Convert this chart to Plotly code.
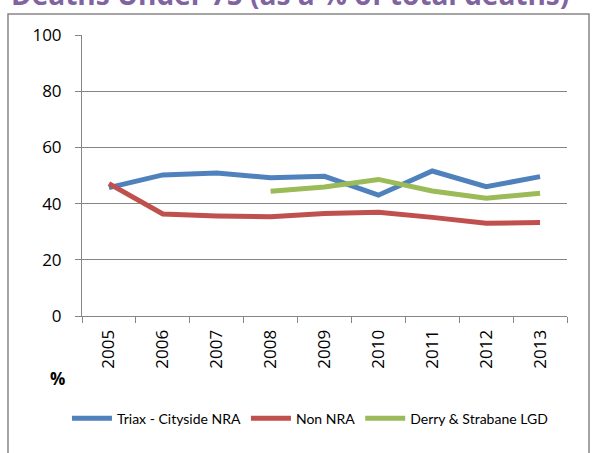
import plotly.graph_objects as go

years = ['2005', '2006', '2007', '2008', '2009', '2010', '2011', '2012', '2013']
triax = [45.7, 50.2, 50.9, 49.2, 49.7, 43.0, 51.6, 46.0, 49.6]
non_nra = [47.1, 36.3, 35.6, 35.3, 36.5, 36.9, 35.1, 33.0, 33.3]
derry = [None, None, None, 44.4, 45.9, 48.6, 44.5, 41.9, 43.7]

font_family = "'Open Sans', Lato, sans-serif"

fig = go.Figure()
fig.add_trace(go.Scatter(x=years, y=triax, mode='lines', name='Triax - Cityside NRA',
                         line=dict(color='#4F81BD', width=5)))
fig.add_trace(go.Scatter(x=years, y=non_nra, mode='lines', name='Non NRA',
                         line=dict(color='#C0504D', width=5)))
fig.add_trace(go.Scatter(x=years, y=derry, mode='lines', name='Derry & Strabane LGD',
                         line=dict(color='#9BBB59', width=5)))

# outer chart border
fig.add_shape(type='rect', xref='paper', yref='paper',
              x0=-0.1526, x1=1.0454, y0=-0.53, y1=1.0747,
              line=dict(color='#868686', width=1.5))

# title, cut off at the top edge like in the source image
fig.add_annotation(text='<b>Deaths Under 75 (as a % of total deaths)</b>',
                   xref='paper', yref='paper', x=0.429, y=1.147,
                   xanchor='center', yanchor='middle', showarrow=False,
                   font=dict(size=28, color='#8064A2', family=font_family))

fig.add_annotation(text='<b>%</b>', xref='paper', yref='paper', x=-0.07, y=-0.27,
                   showarrow=False, font=dict(size=17, color='black', family=font_family))

fig.update_layout(
    width=592, height=453,
    margin=dict(l=82, r=25, t=35, b=137),
    paper_bgcolor='white', plot_bgcolor='white',
    font=dict(family=font_family, color='black'),
    showlegend=True,
    legend=dict(orientation='h', x=0.47, xanchor='center', y=-0.365, yanchor='middle',
                font=dict(size=14, family="Lato, sans-serif"), itemwidth=40,
                tracegroupgap=0, bgcolor='rgba(0,0,0,0)'),
    xaxis=dict(type='category', range=[-0.5, 8.5], showgrid=False,
               showline=True, linecolor='#868686', linewidth=1,
               ticks='outside', ticklen=6, tickcolor='#868686', tickson='boundaries',
               tickangle=-90, tickfont=dict(size=17), ticklabelstandoff=6),
    yaxis=dict(range=[0, 100], tickvals=[0, 20, 40, 60, 80, 100],
               showgrid=True, gridcolor='#868686', gridwidth=1,
               showline=True, linecolor='#868686', linewidth=1,
               ticks='outside', ticklen=6, tickcolor='#868686',
               zeroline=False, tickfont=dict(size=17), ticklabelstandoff=10),
)

fig.write_html('out.html', config={'displayModeBar': False},
               post_script="document.body.style.margin='0';")
